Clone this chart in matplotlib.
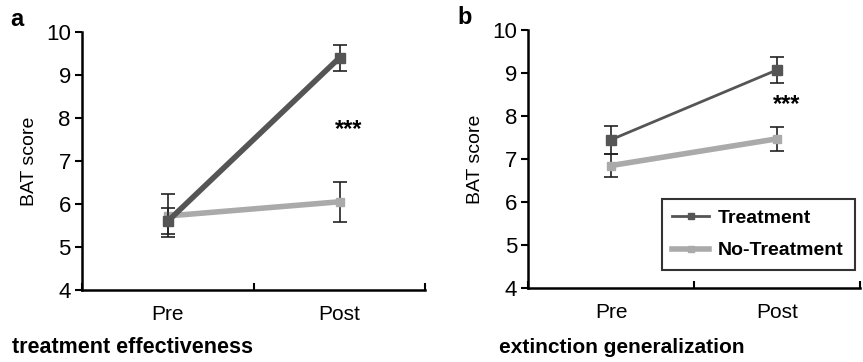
import numpy as np
import matplotlib.pyplot as plt
from matplotlib.lines import Line2D

plt.rcParams['font.family'] = ['Liberation Sans', 'DejaVu Sans']

phases = ['Pre', 'Post']

# panel a: treatment effectiveness
a_treat = [5.6, 9.4]
a_treat_err = [0.3, 0.3]
a_none = [5.72, 6.05]
a_none_err = [0.5, 0.46]

# panel b: extinction generalization
b_treat = [7.45, 9.07]
b_treat_err = [0.33, 0.3]
b_none = [6.85, 7.47]
b_none_err = [0.26, 0.28]

dark = '#555555'
light = '#aaaaaa'

fig = plt.figure(figsize=(8.63, 3.62), dpi=100)
ax1 = fig.add_axes([0.095, 0.199, 0.398, 0.713])
ax2 = fig.add_axes([0.612, 0.204, 0.384, 0.713])


def draw(ax, treat, treat_err, none, none_err, treat_lw, star_x, star_y):
    x = np.arange(1, len(phases) + 1)
    ax.errorbar(x, none, yerr=none_err, color=light, lw=4, marker='s', ms=6,
                ecolor='#222222', elinewidth=1.2, capsize=5, capthick=1.2, zorder=2)
    ax.errorbar(x, treat, yerr=treat_err, color=dark, lw=treat_lw, marker='s', ms=7,
                ecolor='#222222', elinewidth=1.2, capsize=5, capthick=1.2, zorder=3)
    ax.text(star_x, star_y, '***', ha='center', va='center', fontsize=17, fontweight='bold')
    ax.set_xlim(0.5, 2.5)
    ax.set_ylim(4, 10)
    ax.set_yticks(range(4, 11))
    ax.set_xticks([0.5, 1.5, 2.5])
    ax.set_xticklabels([])
    ax.set_xticks(x, minor=True)
    ax.set_xticklabels(phases, minor=True)
    ax.tick_params(axis='x', which='minor', length=0, pad=11, labelsize=15)
    ax.tick_params(axis='x', which='major', length=5, width=1.5, direction='in')
    ax.tick_params(axis='y', length=5, width=1.5, labelsize=16, pad=3)
    for s in ['top', 'right']:
        ax.spines[s].set_visible(False)
    for s in ['left', 'bottom']:
        ax.spines[s].set_linewidth(1.8)
    ax.set_ylabel('BAT score', fontsize=14, labelpad=6)


draw(ax1, a_treat, a_treat_err, a_none, a_none_err, 4, 2.05, 7.72)
draw(ax2, b_treat, b_treat_err, b_none, b_none_err, 2, 2.06, 8.28)

handles = [Line2D([], [], color=dark, lw=2, marker='s', ms=5),
           Line2D([], [], color=light, lw=4, marker='s', ms=5)]
leg = ax2.legend(handles, ['Treatment', 'No-Treatment'], loc='lower right',
                 bbox_to_anchor=(0.985, 0.07), borderaxespad=0, frameon=True,
                 fancybox=False, edgecolor='black', handlelength=1.9, handletextpad=0.45,
                 prop={'weight': 'bold', 'size': 14}, borderpad=0.55, labelspacing=0.75)
leg.get_frame().set_linewidth(1.5)

fig.text(0.012, 0.945, 'a', fontsize=17, fontweight='bold', va='center')
fig.text(0.530, 0.952, 'b', fontsize=17, fontweight='bold', va='center')
fig.text(0.014, 0.039, 'treatment effectiveness', fontsize=15.5, fontweight='bold', va='center')
fig.text(0.578, 0.041, 'extinction generalization', fontsize=15, fontweight='bold', va='center')

fig.savefig('out.png', dpi=100)
